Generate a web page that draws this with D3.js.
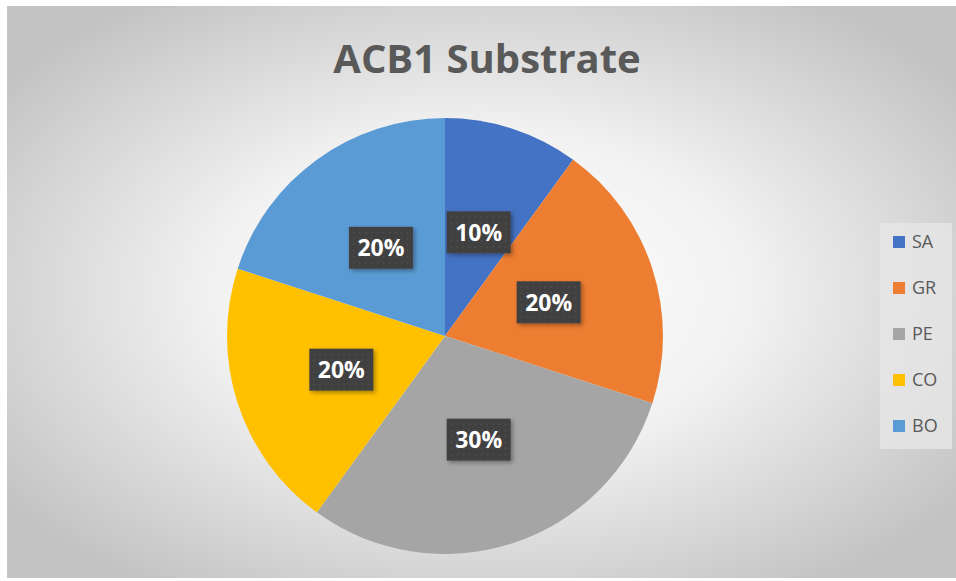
<!DOCTYPE html>
<html>
<head>
<meta charset="utf-8">
<script src="https://cdn.jsdelivr.net/npm/d3@7"></script>
<style>
  body { margin: 0; background: #fff; }
  svg { display: block; }
</style>
</head>
<body>
<script>
// Data
var categories = ["SA", "GR", "PE", "CO", "BO"];
var values = [10, 20, 30, 20, 20];
var colors = ["#4472C4", "#ED7D31", "#A5A5A5", "#FFC000", "#5B9BD5"];
var title = "ACB1 Substrate";

var svgWidth = 956, svgHeight = 581;
var area = { x: 7, y: 6, w: 949, h: 572 };

var svg = d3.select("body").append("svg")
  .attr("width", svgWidth)
  .attr("height", svgHeight);

var defs = svg.append("defs");

// Background gradient
var grad = defs.append("radialGradient")
  .attr("id", "bg")
  .attr("cx", "50%").attr("cy", "50%").attr("r", "62%");
grad.append("stop").attr("offset", "0%").attr("stop-color", "#ffffff");
grad.append("stop").attr("offset", "45%").attr("stop-color", "#f2f2f2");
grad.append("stop").attr("offset", "100%").attr("stop-color", "#c3c3c3");

// Dotted pattern for label boxes
var pat = defs.append("pattern")
  .attr("id", "dots")
  .attr("width", 6).attr("height", 6)
  .attr("patternUnits", "userSpaceOnUse");
pat.append("rect").attr("width", 6).attr("height", 6).attr("fill", "#404040");
pat.append("rect").attr("x", 2).attr("y", 2).attr("width", 1.3).attr("height", 1.3).attr("fill", "#555555");

var shadow = defs.append("filter").attr("id", "shadow")
  .attr("x", "-20%").attr("y", "-20%").attr("width", "150%").attr("height", "160%");
shadow.append("feDropShadow")
  .attr("dx", 2).attr("dy", 2).attr("stdDeviation", 2)
  .attr("flood-color", "#000").attr("flood-opacity", 0.35);

svg.append("rect")
  .attr("x", area.x).attr("y", area.y)
  .attr("width", area.w).attr("height", area.h)
  .attr("fill", "url(#bg)");

// Title
svg.append("text")
  .attr("x", 487).attr("y", 73)
  .attr("text-anchor", "middle")
  .attr("font-family", "'Open Sans', 'Noto Sans', sans-serif")
  .attr("font-weight", "bold")
  .attr("font-size", 40)
  .attr("fill", "#595959")
  .text(title);

// Pie
var cx = 445, cy = 336, radius = 218;

var pie = d3.pie().sort(null).value(function(d) { return d; });
var arcs = pie(values);
var arc = d3.arc().innerRadius(0).outerRadius(radius);
var labelArc = d3.arc().innerRadius(radius * 0.5).outerRadius(radius * 0.5);

var total = d3.sum(values);

var chartGroup = svg.append("g")
  .attr("transform", `translate(${cx}, ${cy})`);

chartGroup.selectAll(".slice")
  .data(arcs).enter()
  .append("path")
  .attr("class", "slice")
  .attr("d", arc)
  .attr("fill", function(d, i) { return colors[i]; });

var labels = chartGroup.selectAll(".lbl")
  .data(arcs).enter()
  .append("g")
  .attr("class", "lbl")
  .attr("transform", function(d) {
    var c = labelArc.centroid(d);
    return `translate(${c[0]}, ${c[1]})`;
  });

labels.append("rect")
  .attr("x", -32).attr("y", -21)
  .attr("width", 64).attr("height", 42)
  .attr("fill", "url(#dots)")
  .attr("filter", "url(#shadow)");

labels.append("text")
  .attr("text-anchor", "middle")
  .attr("dy", "0.36em")
  .attr("font-family", "'Open Sans', 'Noto Sans', sans-serif")
  .attr("font-weight", "bold")
  .attr("font-size", 23)
  .attr("fill", "#ffffff")
  .text(function(d) { return Math.round(d.data / total * 100) + "%"; });

// Legend
var legend = svg.append("g");
legend.append("rect")
  .attr("x", 880).attr("y", 223)
  .attr("width", 72).attr("height", 226)
  .attr("fill", "#e6e6e6")
  .attr("opacity", 0.8);

var legendY = d3.scalePoint()
  .domain(categories)
  .range([242, 426]);

var items = legend.selectAll(".item")
  .data(categories).enter()
  .append("g")
  .attr("class", "item")
  .attr("transform", function(d) { return `translate(893, ${legendY(d)})`; });

items.append("rect")
  .attr("x", 0).attr("y", -6)
  .attr("width", 12).attr("height", 12)
  .attr("fill", function(d, i) { return colors[i]; });

items.append("text")
  .attr("x", 19)
  .attr("dy", "0.35em")
  .attr("font-family", "'Open Sans', 'Noto Sans', sans-serif")
  .attr("font-size", 18)
  .attr("fill", "#595959")
  .text(function(d) { return d; });
</script>
</body>
</html>
